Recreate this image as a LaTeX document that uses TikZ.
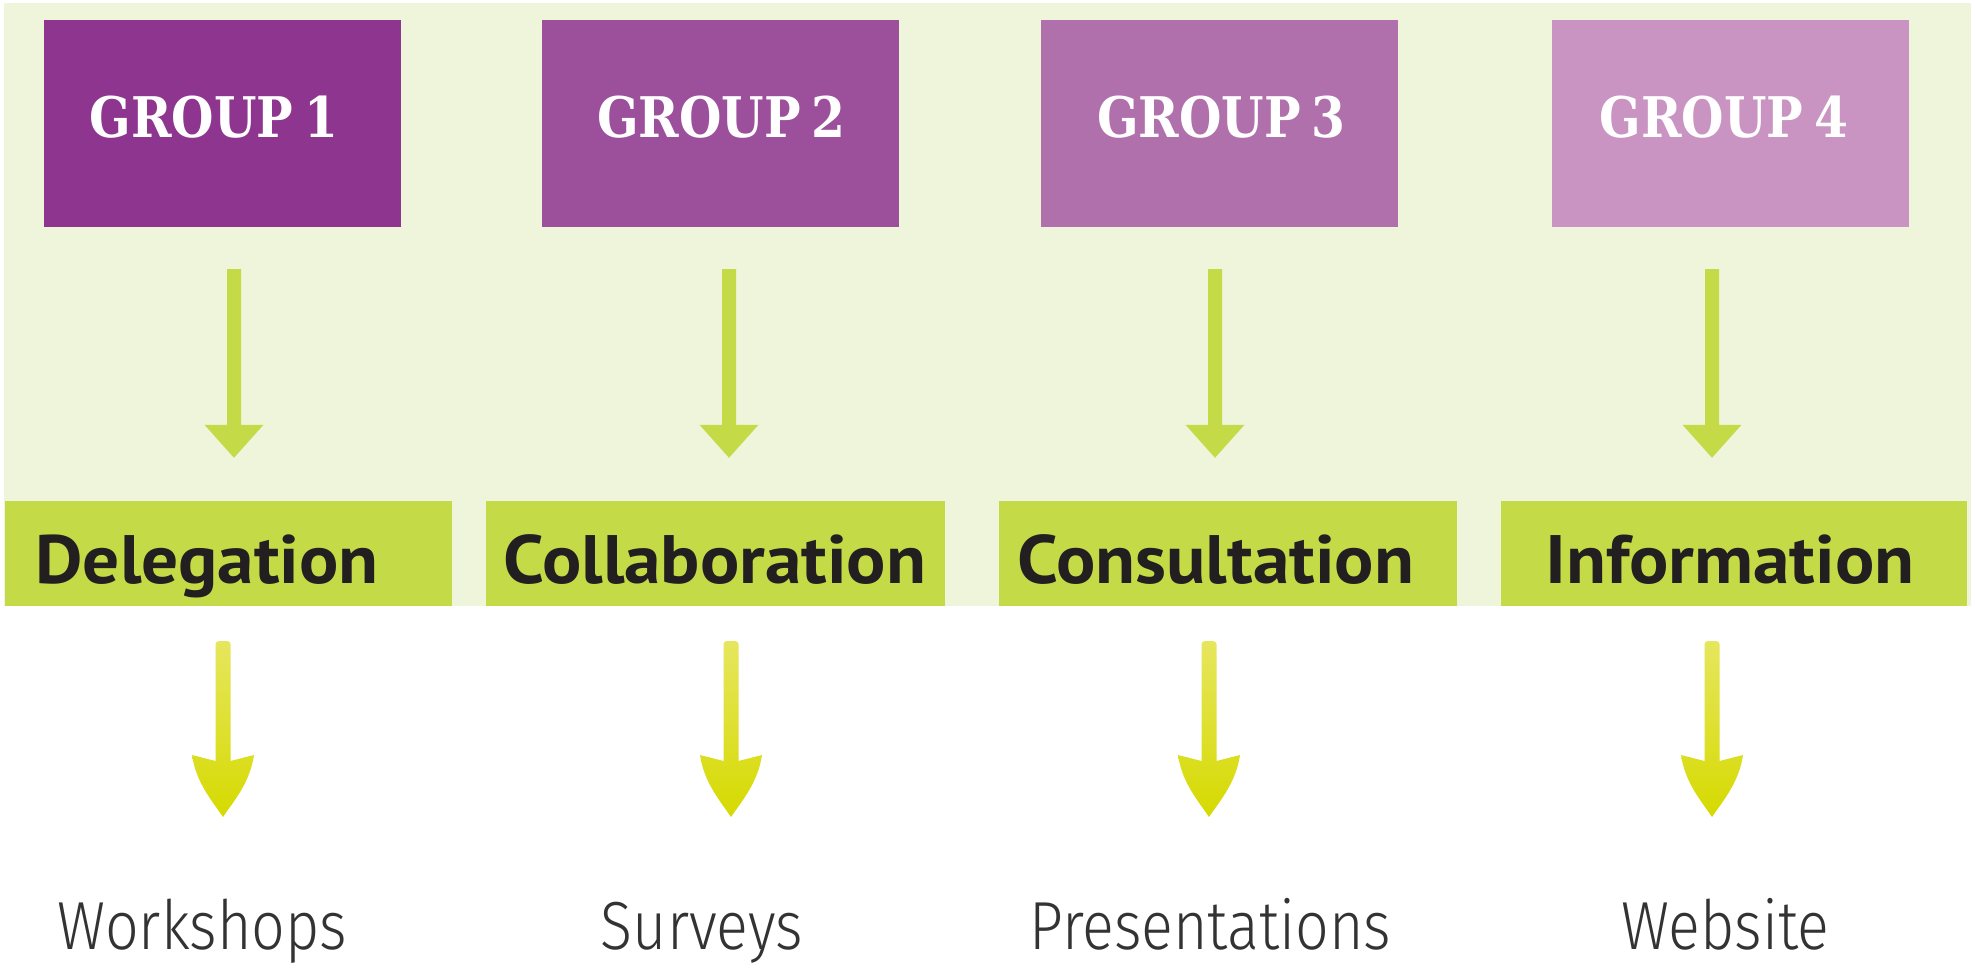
\documentclass[tikz,border=0pt]{standalone}
\usepackage{fontspec}
\usetikzlibrary{calc}
\newfontfamily\grpfont{DejaVu Serif}[FakeStretch=0.87]
\newfontfamily\bandfont{PT Sans}[FakeStretch=1.07]
\newfontfamily\lblfont{Fira Sans Light}[FakeStretch=0.87]
\definecolor{bgc}{HTML}{EEF5DA}
\definecolor{gA}{HTML}{8E3590}
\definecolor{gB}{HTML}{9C509C}
\definecolor{gC}{HTML}{B070AC}
\definecolor{gD}{HTML}{C993C2}
\definecolor{bandc}{HTML}{C5DA47}
\definecolor{bandtxt}{HTML}{231F20}
\definecolor{lbltxt}{HTML}{333333}
\definecolor{arrtop}{HTML}{E6E65E}
\definecolor{arrbot}{HTML}{D6DA00}
\newcommand\toparr[2]{\fill[bandc] let \p1=(#1), \p2=(#2) in
  ({\x1-7pt},{\y1}) -- ({\x1+7pt},{\y1}) -- ({\x1+7pt},{\y2+33pt}) -- ({\x1+29.5pt},{\y2+33pt})
  -- ({\x1},{\y2}) -- ({\x1-29.5pt},{\y2+33pt}) -- ({\x1-7pt},{\y2+33pt}) -- cycle;}
\newcommand\botarr[2]{\shade[top color=arrtop, bottom color=arrbot] let \p1=(#1), \p2=(#2) in
  ({\x1-7.5pt},{\y2+56pt}) -- ({\x1-7.5pt},{\y1-3pt}) arc[start angle=180,end angle=90,radius=3pt]
  -- ({\x1+4.5pt},{\y1}) arc[start angle=90,end angle=0,radius=3pt]
  -- ({\x1+7.5pt},{\y2+56pt}) -- ({\x1+31pt},{\y2+62pt})
  .. controls ({\x1+27pt},{\y2+34pt}) and ({\x1+10pt},{\y2+15pt}) .. ({\x1},{\y2})
  .. controls ({\x1-10pt},{\y2+15pt}) and ({\x1-27pt},{\y2+34pt}) .. ({\x1-31pt},{\y2+62pt}) -- cycle;}
\begin{document}
\begin{tikzpicture}[x=1pt,y=-1pt,
  grp/.style={minimum width=357pt, minimum height=207pt, inner sep=0pt, draw=none},
  grptext/.style={anchor=base, text=white, inner sep=0pt, font=\grpfont\bfseries\fontsize{56}{56}\selectfont},
  band/.style={fill=bandc, minimum height=105pt, inner sep=0pt, draw=none},
  bandtext/.style={anchor=base, text=bandtxt, inner sep=0pt, font=\bandfont\bfseries\fontsize{68.5}{68.5}\selectfont},
  lbl/.style={anchor=base, text=lbltxt, inner sep=0pt, font=\lblfont\fontsize{68}{68}\selectfont}]
\useasboundingbox (0,0) rectangle (1975,968);
\fill[white] (0,0) rectangle (1975,968);
\fill[bgc] (4,3) rectangle (1971,606);
% group boxes
\node[grp, fill=gA] (g1) at (222.5,123.5) {};
\node[grp, fill=gB] (g2) at (720,123.5) {};
\node[grp, fill=gC] (g3) at (1219.5,123.5) {};
\node[grp, fill=gD] (g4) at (1730.5,123.5) {};
\node[grptext] (gt1) at (214,138) {GROUP\hspace{0.2em}1};
\node[grptext] (gt2) at (721.5,138) {GROUP\hspace{0.2em}2};
\node[grptext] (gt3) at (1221.5,138) {GROUP\hspace{0.2em}3};
\node[grptext] (gt4) at (1724,138) {GROUP\hspace{0.2em}4};
% bands
\node[band, minimum width=447pt] (d1) at (228.5,553.5) {};
\node[band, minimum width=459pt] (d2) at (715.5,553.5) {};
\node[band, minimum width=458pt] (d3) at (1228,553.5) {};
\node[band, minimum width=466pt] (d4) at (1734,553.5) {};
\node[bandtext] (dt1) at (207,583) {Delegation};
\node[bandtext] (dt2) at (715,583) {Collaboration};
\node[bandtext] (dt3) at (1216,583) {Consultation};
\node[bandtext] (dt4) at (1730,583) {Information};
% labels
\node[lbl] (w1) at (202.5,949) {Workshops};
\node[lbl] (w2) at (702,949) {Surveys};
\node[lbl] (w3) at (1210.5,949) {Presentations};
\node[lbl] (w4) at (1725.5,949) {Website};
% top arrows
\coordinate (t1s) at ($(g1.south)+(11.5,42)$);
\coordinate (t2s) at ($(g2.south)+(9,42)$);
\coordinate (t3s) at ($(g3.south)+(-4.5,42)$);
\coordinate (t4s) at ($(g4.south)+(-18.5,42)$);
\toparr{t1s}{$(d1.north)+(0,-43)$}
\toparr{t2s}{$(d2.north)+(0,-43)$}
\toparr{t3s}{$(d3.north)+(0,-43)$}
\toparr{t4s}{$(d4.north)+(0,-43)$}
% bottom arrows
\coordinate (b1s) at ($(d1.south)+(-5.5,35)$);
\coordinate (b2s) at ($(d2.south)+(15.5,35)$);
\coordinate (b3s) at ($(d3.south)+(-19,35)$);
\coordinate (b4s) at ($(d4.south)+(-22,35)$);
\botarr{b1s}{$(w1.base)+(0,-132)$}
\botarr{b2s}{$(w2.base)+(0,-132)$}
\botarr{b3s}{$(w3.base)+(0,-132)$}
\botarr{b4s}{$(w4.base)+(0,-132)$}
\end{tikzpicture}
\end{document}
